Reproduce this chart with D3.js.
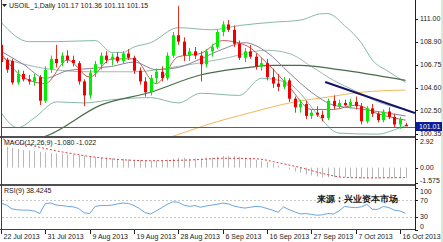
<!DOCTYPE html>
<html>
<head>
<meta charset="utf-8">
<script src="https://cdn.jsdelivr.net/npm/d3@7"></script>
<style>
body { margin: 0; background: #fff; }
svg text { font-family: "Liberation Sans", Arial, sans-serif; }
</style>
</head>
<body>
<div id="chart-area"></div>
<script>
// ---- data ----
var opens  = [108.6,107.2,107.1,105.1,105.9,105.4,105.2,105.6,103.4,106.3,107.3,106.9,107.6,107.2,106.9,105.2,103.9,106.0,106.8,107.6,107.2,107.5,107.1,107.8,107.4,106.2,105.2,104.2,105.5,106.1,105.5,107.6,109.5,108.9,107.6,108.0,107.6,106.8,108.0,108.4,109.8,110.5,110.0,108.7,107.4,108.0,107.5,106.6,106.9,105.6,105.0,104.7,105.3,103.6,102.8,103.1,102.0,102.3,102.1,101.8,103.4,102.9,103.2,103.0,103.3,102.9,101.5,102.7,102.2,101.6,102.4,101.9,101.2,101.17];
var highs  = [108.9,107.4,107.3,106.3,106.2,105.8,105.9,105.8,106.6,107.6,108.6,107.9,108.1,107.6,107.1,105.4,106.3,107.1,107.9,108.0,107.8,107.9,108.0,108.2,107.6,106.5,105.6,105.8,106.4,106.6,107.9,109.8,112.2,109.3,108.3,108.4,108.0,108.2,108.7,110.0,110.8,110.9,110.4,109.0,108.3,108.6,107.8,107.4,107.3,106.4,105.9,105.6,105.5,103.8,103.5,103.4,102.6,102.9,102.5,103.6,103.9,103.5,103.5,103.6,103.8,103.2,102.9,103.1,102.4,102.6,102.8,102.2,101.9,101.36];
var lows   = [106.8,106.0,104.9,104.9,105.2,104.9,104.8,103.0,103.2,106.0,106.5,106.6,106.9,106.6,104.9,102.9,103.6,105.6,106.3,106.9,106.7,106.9,106.9,107.2,105.9,104.9,103.8,103.9,105.0,105.2,105.3,107.4,108.6,107.1,107.1,107.3,105.2,106.5,107.5,108.2,109.4,109.8,108.4,107.2,107.0,107.3,106.3,106.2,105.3,104.6,104.3,104.5,103.3,102.3,102.3,101.7,101.7,101.9,101.5,101.6,102.6,102.7,102.9,102.7,102.6,101.2,101.3,101.9,101.4,101.4,101.7,100.9,100.8,101.11];
var closes = [107.0,106.3,105.1,105.9,105.4,105.2,105.6,103.4,106.3,107.3,106.9,107.6,107.2,106.9,105.2,103.9,106.0,106.8,107.6,107.2,107.5,107.1,107.8,107.4,106.2,105.2,104.2,105.5,106.1,105.5,107.6,109.5,108.9,107.6,108.0,107.6,106.8,108.0,108.4,109.8,110.5,110.0,108.7,107.4,108.0,107.5,106.6,106.9,105.6,105.0,104.7,105.3,103.6,102.8,103.1,102.0,102.3,102.1,101.8,103.4,102.9,103.2,103.0,103.3,102.9,101.5,102.7,102.2,101.6,102.4,101.9,101.2,101.7,101.15];

// indicator lines as [bar, value]
var bbUpper  = [[0,110.7],[5,108.9],[10,108.9],[17,109.0],[20,107.9],[22,107.9],[24,108.4],[27,108.8],[32,110.2],[38,110.0],[43,110.4],[49,110.7],[54,110.9],[58,111.5],[59,111.5],[62,110.4],[65,108.8],[67,107.2],[70,106.1],[73,105.1]];
var bbMiddle = [[0,107.4],[8,106.4],[16,106.1],[24,106.1],[32,106.6],[40,107.3],[48,108.1],[52,107.8],[56,106.6],[60,105.3],[64,104.3],[68,103.3],[73,102.6]];
var bbLower  = [[0,102.3],[3,100.9],[6,101.8],[10,103.3],[15,103.2],[20,103.5],[27,103.7],[32,103.2],[36,104.1],[43,103.9],[47,105.5],[52,105.0],[54,104.1],[57,102.2],[61,100.4],[68,100.3],[71,100.7],[73,101.1]];
var maFast   = [[0,107.8],[4,105.6],[8,105.0],[12,107.2],[16,105.6],[20,107.3],[24,107.3],[28,105.0],[32,107.5],[36,107.8],[40,109.0],[44,108.6],[48,106.9],[52,104.7],[56,102.6],[60,102.6],[64,103.0],[68,102.2],[73,101.6]];
var maMid    = [[0,108.0],[4,106.8],[8,105.5],[12,106.2],[16,106.4],[20,106.6],[24,107.0],[28,106.3],[32,106.5],[36,107.3],[40,108.2],[44,108.8],[48,107.9],[52,106.0],[56,104.2],[60,103.0],[64,102.7],[68,102.4],[73,102.0]];
var maSlow   = [[0,97.9],[6,99.8],[8,100.1],[18,103.0],[27,104.2],[36,105.8],[43,106.4],[49,106.7],[54,106.7],[61,106.3],[73,105.3]];
var maLong   = [[20,98.5],[31,100.1],[37,101.15],[45,102.3],[53,103.3],[59,103.75],[65,104.2],[73,104.4]];
var trendLine = [[58.5,105.15],[74.7,102.27]];
var hLevel = 101.01;

var macdHist = [2.2,2.1,2.0,1.9,1.8,1.75,1.7,1.6,1.55,1.5,1.45,1.4,1.35,1.3,1.25,1.2,1.1,1.05,1.0,1.0,0.95,0.9,0.9,0.85,0.8,0.8,0.75,0.7,0.7,0.7,0.8,0.9,1.0,1.0,0.9,0.9,0.9,1.0,1.0,1.1,1.2,1.2,1.2,1.1,1.0,0.9,0.8,0.7,0.6,0.4,0.2,0.0,-0.2,-0.4,-0.5,-0.7,-0.8,-0.9,-1.0,-1.0,-1.0,-1.0,-1.0,-1.0,-1.0,-1.1,-1.1,-1.1,-1.1,-1.1,-1.1,-1.1,-1.08,-1.08];
var macdSignal = [[-1,3.2],[0,3.0],[6,2.2],[12,1.5],[18,1.0],[27,0.7],[35,0.8],[40,0.95],[46,0.9],[50,0.5],[54,0.0],[58,-0.6],[62,-1.0],[66,-1.05],[73,-1.02]];

var rsi = [63,58,49,47,46,46,44,38,62,63,58,57,55,54,50,40,38,55,57,57,58,61,63,62,57,50,40,37,44,52,60,66,65,58,55,57,53,56,58,60,63,61,56,53,51,53,55,54,50,46,41,54,47,42,37,38,36,34,35,38,37,44,55,53,52,54,60,48,48,55,52,46,44,38.4];

var dateLabels = ["22 Jul 2013","31 Jul 2013","9 Aug 2013","19 Aug 2013","28 Aug 2013","6 Sep 2013","16 Sep 2013","27 Sep 2013","7 Oct 2013","16 Oct 2013"];
var dateBars = [0,8,16,24,32,40,48,56,64,72];
var priceTicks = [111.00,108.90,106.75,104.60,102.50,100.35];
var macdTicks = [2.92,0.00,-1.575];
var rsiTicks = [100,70,30,0];
var rsiLevels = [70,30];

// ---- layout ----
var width = 443, height = 242;
var plotRight = 415;
var mainTop = 0, mainBottom = 136;
var macdTop = 138, macdBottom = 184;
var rsiTop = 186, rsiBottom = 230;

var svg = d3.select("#chart-area")
	.append("svg")
		.attr("width", width)
		.attr("height", height);

svg.append("rect").attr("width", width).attr("height", height).attr("fill", "#fff");
svg.append("rect").attr("x", width - 2).attr("width", 2).attr("height", height).attr("fill", "#d4ecd4");

var x = d3.scaleLinear().domain([0, 72]).range([1, 400]);
var yMain = d3.scaleLinear().domain([100.13, 112.77]).range([mainBottom, mainTop]);
var yMacd = d3.scaleLinear().domain([-1.575, 2.92]).range([183, 139]);
var yRsi = d3.scaleLinear().domain([0, 100]).range([229.5, 187.5]);

function clip(id, top, bottom) {
	svg.append("clipPath").attr("id", id)
		.append("rect").attr("x", 2).attr("y", top).attr("width", plotRight - 2).attr("height", bottom - top);
	return svg.append("g").attr("clip-path", "url(#" + id + ")");
}

var gMain = clip("cMain", mainTop, mainBottom);
var gMacd = clip("cMacd", macdTop, macdBottom);
var gRsi = clip("cRsi", rsiTop, rsiBottom);

var curve = function(scale) {
	return d3.line()
		.x(function(d) { return x(d[0]); })
		.y(function(d) { return scale(d[1]); })
		.curve(d3.curveMonotoneX);
};

// Bollinger & moving averages
function drawLine(g, data, color, w, scale) {
	g.append("path")
		.datum(data)
		.attr("fill", "none")
		.attr("stroke", color)
		.attr("stroke-width", w)
		.attr("d", curve(scale));
}
drawLine(gMain, bbUpper, "#86b8aa", 1, yMain);
drawLine(gMain, bbLower, "#86b8aa", 1, yMain);
drawLine(gMain, bbMiddle, "#9fb8b0", 1, yMain);
drawLine(gMain, maLong, "#f2b85a", 1, yMain);
drawLine(gMain, maSlow, "#4a6b4a", 1.2, yMain);
drawLine(gMain, maMid, "#8c7f9c", 1, yMain);
drawLine(gMain, maFast, "#c0605a", 1, yMain);

// horizontal level
gMain.append("line")
	.attr("x1", 0).attr("x2", plotRight)
	.attr("y1", Math.round(yMain(hLevel)) + 0.5).attr("y2", Math.round(yMain(hLevel)) + 0.5)
	.attr("stroke", "#5050e0").attr("stroke-width", 1);

// candles
var bars = d3.range(opens.length);
var candles = gMain.selectAll(".candle").data(bars).enter().append("g");
candles.append("line")
	.attr("x1", function(i) { return Math.round(x(i)) + 0.5; })
	.attr("x2", function(i) { return Math.round(x(i)) + 0.5; })
	.attr("y1", function(i) { return yMain(highs[i]); })
	.attr("y2", function(i) { return yMain(lows[i]); })
	.attr("stroke", function(i) { return closes[i] >= opens[i] ? "#20d020" : "#e03020"; })
	.attr("stroke-width", 1);
candles.append("rect")
	.attr("x", function(i) { return Math.round(x(i)) - 1; })
	.attr("width", 3)
	.attr("y", function(i) { return yMain(Math.max(opens[i], closes[i])); })
	.attr("height", function(i) { return Math.max(1.5, Math.abs(yMain(opens[i]) - yMain(closes[i]))); })
	.attr("fill", function(i) { return closes[i] >= opens[i] ? "#00ee00" : "#ee0000"; });

// trendline
gMain.append("path")
	.datum(trendLine)
	.attr("fill", "none")
	.attr("stroke", "#141466")
	.attr("stroke-width", 2)
	.attr("d", d3.line().x(function(d) { return x(d[0]); }).y(function(d) { return yMain(d[1]); }));

// MACD
gMacd.selectAll(".hist").data(bars).enter().append("line")
	.attr("x1", function(i) { return Math.round(x(i)) + 0.5; })
	.attr("x2", function(i) { return Math.round(x(i)) + 0.5; })
	.attr("y1", yMacd(0))
	.attr("y2", function(i) { return yMacd(macdHist[i]); })
	.attr("stroke", "#b8b8b8");
gMacd.append("path")
	.datum(macdSignal)
	.attr("fill", "none")
	.attr("stroke", "#e04040")
	.attr("stroke-dasharray", "2,2")
	.attr("d", curve(yMacd));

// RSI
rsiLevels.forEach(function(v) {
	gRsi.append("line")
		.attr("x1", 2).attr("x2", plotRight)
		.attr("y1", Math.round(yRsi(v)) + 0.5).attr("y2", Math.round(yRsi(v)) + 0.5)
		.attr("stroke", "#c8c8c8").attr("stroke-dasharray", "2,2");
});
gRsi.append("path")
	.datum(rsi)
	.attr("fill", "none")
	.attr("stroke", "#6aa5e0")
	.attr("stroke-width", 1)
	.attr("d", d3.line().x(function(d, i) { return x(i); }).y(function(d) { return yRsi(d); }));

// frames
svg.append("rect").attr("x", 0).attr("y", 136).attr("width", plotRight).attr("height", 2).attr("fill", "#505050");
svg.append("rect").attr("x", 0).attr("y", 184).attr("width", plotRight).attr("height", 2).attr("fill", "#505050");
svg.append("line").attr("x1", 0).attr("x2", plotRight).attr("y1", 229.5).attr("y2", 229.5).attr("stroke", "#404040");
svg.append("line").attr("x1", 1.5).attr("x2", 1.5).attr("y1", 0).attr("y2", 230).attr("stroke", "#404040");
svg.append("line").attr("x1", plotRight + 0.5).attr("x2", plotRight + 0.5).attr("y1", 0).attr("y2", 230).attr("stroke", "#202020");

// right axes
function rightAxis(scale, ticks, fmt, shift) {
	var g = svg.append("g");
	ticks.forEach(function(t, k) {
		var yy = scale(t);
		g.append("line").attr("x1", plotRight).attr("x2", plotRight + 3)
			.attr("y1", Math.round(yy) + 0.5).attr("y2", Math.round(yy) + 0.5).attr("stroke", "#202020");
		g.append("text").attr("x", plotRight + 5).attr("y", yy + (shift[k] || 0))
			.attr("dy", "0.35em").attr("font-size", "7px").attr("fill", "#202020")
			.text(fmt(t));
	});
}
rightAxis(yMain, priceTicks, d3.format(".2f"), []);
rightAxis(yMacd, macdTicks, function(t) { return t === 0 ? "0.00" : String(t); }, [3, 0, -2]);
rightAxis(yRsi, rsiTicks, String, [4, 0, 0, -3]);

// level label box
svg.append("rect").attr("x", plotRight + 1).attr("y", yMain(hLevel) - 4.5).attr("width", 26).attr("height", 9).attr("fill", "#0c1c94");
svg.append("text").attr("x", plotRight + 4).attr("y", yMain(hLevel)).attr("dy", "0.35em")
	.attr("font-size", "7px").attr("fill", "#fff").text(d3.format(".2f")(hLevel));

// x axis
dateBars.forEach(function(b, k) {
	var xx = Math.round(x(b)) + 0.5;
	svg.append("line").attr("x1", xx).attr("x2", xx).attr("y1", 230).attr("y2", 234).attr("stroke", "#202020");
	svg.append("text").attr("x", xx + 2).attr("y", 239)
		.attr("font-size", "7px").attr("fill", "#202020").text(dateLabels[k]);
});

// titles
svg.append("path").attr("d", "M2,4 L7,4 L4.5,7 Z").attr("fill", "#202020");
svg.append("text").attr("x", 9).attr("y", 8).attr("font-size", "7px").attr("fill", "#202020")
	.text("USOIL_1,Daily  101.17 101.36 101.11 101.15");
svg.append("text").attr("x", 4).attr("y", 145).attr("font-size", "7px").attr("fill", "#202020")
	.text("MACD(12,26,9) -1.080 -1.022");
svg.append("text").attr("x", 4).attr("y", 193).attr("font-size", "7px").attr("fill", "#202020")
	.text("RSI(9) 38.4245");
svg.append("text").attr("x", 317).attr("y", 202).attr("font-size", "9px")
	.attr("font-family", "'Noto Sans CJK SC', sans-serif").attr("font-weight", "bold").attr("fill", "#1a1a1a")
	.text("来源：兴业资本市场");
</script>
</body>
</html>
